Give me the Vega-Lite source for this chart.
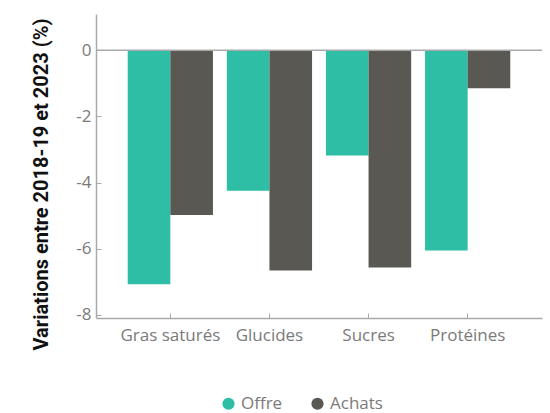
{
  "$schema": "https://vega.github.io/schema/vega-lite/v6.json",
  "autosize": "none",
  "width": 446,
  "height": 304,
  "padding": {"left": 96, "top": 14, "right": 8, "bottom": 95},
  "config": {
    "font": "Open Sans",
    "view": {"stroke": null},
    "axis": {"grid": false, "domainColor": "#aaaaaa", "tickColor": "#aaaaaa", "labelColor": "#7a7a7a", "labelFontSize": 17, "labelFont": "Open Sans", "domainWidth": 1.5}
  },
  "data": {
    "values": [
      {"cat": "Gras saturés", "serie": "Offre", "v": -7.08},
      {"cat": "Gras saturés", "serie": "Achats", "v": -4.98},
      {"cat": "Glucides", "serie": "Offre", "v": -4.25},
      {"cat": "Glucides", "serie": "Achats", "v": -6.66},
      {"cat": "Sucres", "serie": "Offre", "v": -3.18},
      {"cat": "Sucres", "serie": "Achats", "v": -6.57},
      {"cat": "Protéines", "serie": "Offre", "v": -6.06},
      {"cat": "Protéines", "serie": "Achats", "v": -1.15}
    ]
  },
  "layer": [
    {
      "mark": {"type": "bar"},
      "encoding": {
        "x": {"field": "cat", "type": "nominal", "sort": null, "title": null,
              "scale": {"paddingInner": 0.14, "paddingOuter": 0.32},
              "axis": {"labelAngle": 0, "tickSize": -5, "labelPadding": 14}},
        "xOffset": {"field": "serie", "type": "nominal", "sort": ["Offre", "Achats"]},
        "y": {"field": "v", "type": "quantitative",
              "scale": {"domain": [-8.1, 1.1], "nice": false, "zero": false},
              "title": "Variations entre 2018-19 et 2023 (%)",
              "axis": {"values": [-8, -6, -4, -2, 0], "labelExpr": "'' + datum.value", "tickSize": -5, "labelPadding": 10, "titleFontSize": 20, "titleFont": "Roboto", "titleFontWeight": "bold", "titleColor": "#111111", "titlePadding": 24, "titleY": 170}},
        "color": {"field": "serie", "type": "nominal", "sort": ["Offre", "Achats"],
                  "scale": {"domain": ["Offre", "Achats"], "range": ["#2dbea5", "#5a5852"]},
                  "legend": {"title": null, "orient": "none", "direction": "horizontal", "legendX": 124, "legendY": 381, "symbolType": "circle", "symbolSize": 150, "symbolOpacity": 1, "labelFontSize": 17, "labelColor": "#7a7a7a", "columnPadding": 26, "labelOffset": 4}}
      }
    },
    {
      "mark": {"type": "rule", "color": "#aaaaaa", "strokeWidth": 1.5},
      "data": {"values": [{"y": 0}]},
      "encoding": {"y": {"field": "y", "type": "quantitative"}}
    }
  ]
}
